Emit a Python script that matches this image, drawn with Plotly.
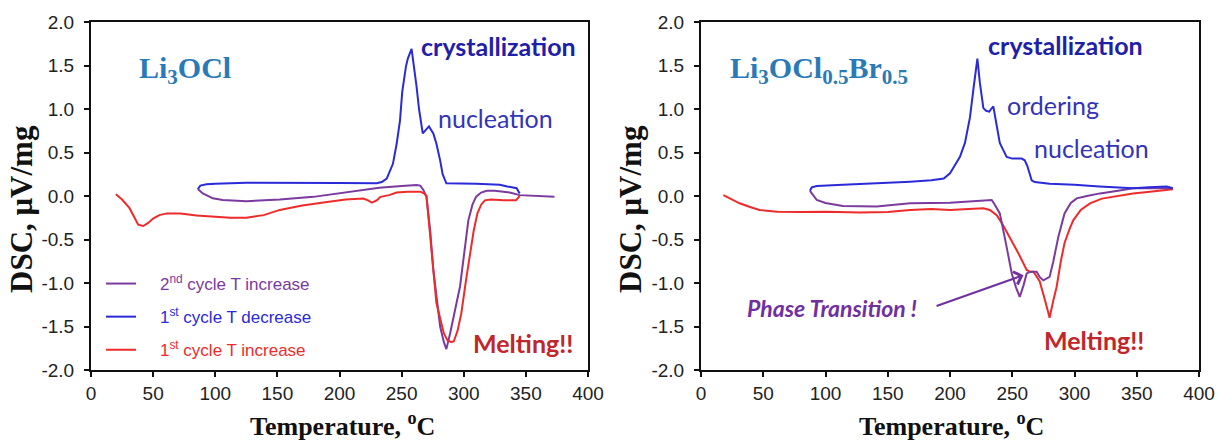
import plotly.graph_objects as go

# ---------------- data: Li3OCl (left panel) ----------------
L_red_x = [20, 25, 31, 35, 38, 42, 46, 50, 55, 61, 72, 85, 100, 112, 125, 139, 152, 170, 190, 205, 219, 223, 226, 230,
           233, 240, 246, 255, 265, 268, 270, 273, 278, 284, 287, 290, 292, 295, 298, 302, 305, 308, 311, 314, 317,
           322, 332, 342, 345]
L_red_y = [0.02, -0.04, -0.14, -0.24, -0.33, -0.345, -0.31, -0.26, -0.22, -0.20, -0.20, -0.225, -0.24, -0.25, -0.25,
           -0.22, -0.16, -0.11, -0.07, -0.04, -0.03, -0.05, -0.077, -0.05, -0.01, 0.01, 0.04, 0.05, 0.05, 0.03, 0.0,
           -0.47, -1.23, -1.58, -1.66, -1.68, -1.67, -1.55, -1.35, -0.95, -0.66, -0.40, -0.2, -0.1, -0.05, -0.04,
           -0.05, -0.05, 0.0]

L_blue_x = [345, 342.6, 335, 329, 310, 295, 286, 283, 281, 278, 275.5, 272, 269.6, 267, 264, 262, 258, 255, 253.5,
            250.5, 248.7, 246, 243, 240, 238, 234, 230, 200, 179, 150, 125, 100, 93, 88, 86]
L_blue_y = [0.03, 0.09, 0.11, 0.13, 0.14, 0.145, 0.146, 0.25, 0.41, 0.6, 0.72, 0.80, 0.76, 0.72, 1.0, 1.26, 1.69,
            1.58, 1.49, 1.2, 0.87, 0.6, 0.37, 0.26, 0.2, 0.16, 0.146, 0.15, 0.153, 0.155, 0.153, 0.14, 0.135, 0.12,
            0.08]

L_purple_x = [86, 90, 98, 106, 125, 152, 179, 205, 232, 250, 262, 265, 267.5, 270, 273, 275.5, 281, 284, 286, 289,
              293, 297, 300, 303.7, 307, 310, 314, 318.5, 325, 337, 345, 360, 373]
L_purple_y = [0.08, 0.03, -0.027, -0.046, -0.06, -0.04, -0.01, 0.04, 0.095, 0.115, 0.126, 0.12, 0.07, -0.01, -0.4,
              -0.85, -1.50, -1.68, -1.76, -1.58, -1.3, -1.04, -0.7, -0.28, -0.1, -0.008, 0.04, 0.06, 0.06, 0.04,
              0.01, -0.005, -0.01]

# ---------------- data: Li3OCl0.5Br0.5 (right panel) ----------------
R_red_x = [18, 25, 31, 40, 47, 61, 80, 101, 128, 150, 168, 185, 200, 215, 226.8, 232, 237.5, 242, 248, 255, 261.6,
           264, 267, 272, 276, 280, 283, 285.7, 289, 292, 296, 299, 305, 312.5, 322, 334, 347, 360.6, 370, 379]
R_red_y = [0.01, -0.04, -0.084, -0.13, -0.16, -0.18, -0.185, -0.18, -0.19, -0.185, -0.16, -0.15, -0.16, -0.15,
           -0.14, -0.16, -0.22, -0.32, -0.47, -0.66, -0.85, -0.87, -0.87, -0.98, -1.18, -1.40, -1.2, -1.04, -0.75,
           -0.54, -0.38, -0.28, -0.16, -0.084, -0.03, 0.0, 0.03, 0.05, 0.06, 0.077]

R_blue_x = [379, 374, 360, 347, 320, 300, 280, 268, 265.6, 262, 260, 257.6, 250, 245.5, 242, 240, 237, 234.8, 233,
            231.6, 229, 226.8, 224, 222, 219, 216, 212, 208, 205, 200, 195, 185, 168, 140, 114, 93, 89, 87.5]
R_blue_y = [0.09, 0.11, 0.10, 0.09, 0.11, 0.13, 0.14, 0.16, 0.18, 0.35, 0.41, 0.43, 0.43, 0.45, 0.55, 0.61, 0.85,
            1.03, 1.0, 0.97, 0.98, 1.01, 1.3, 1.58, 1.25, 0.9, 0.61, 0.45, 0.38, 0.26, 0.2, 0.18, 0.165, 0.15, 0.13,
            0.115, 0.1, 0.06]

R_purple_x = [87.5, 93, 100, 114, 141, 168, 200, 220, 233.5, 236, 240, 245, 249.6, 253, 256, 259, 261.6, 265,
              269.6, 272, 275, 280, 283, 287, 292, 297, 301.8, 310, 320.5, 335, 347, 365, 379]
R_purple_y = [0.06, -0.046, -0.08, -0.115, -0.12, -0.084, -0.077, -0.06, -0.046, -0.1, -0.2, -0.55, -0.89, -1.05,
              -1.16, -1.03, -0.89, -0.87, -0.87, -0.93, -0.97, -0.93, -0.75, -0.47, -0.2, -0.08, -0.027, 0.0, 0.03,
              0.06, 0.088, 0.09, 0.088]

legend_names = ["2<sup>nd</sup> cycle T increase", "1<sup>st</sup> cycle T decrease", "1<sup>st</sup> cycle T increase"]
x_ticks = [0, 50, 100, 150, 200, 250, 300, 350, 400]
y_ticks = [-2.0, -1.5, -1.0, -0.5, 0.0, 0.5, 1.0, 1.5, 2.0]
y_tick_labels = ["-2.0", "-1.5", "-1.0", "-0.5", "0.0", "0.5", "1.0", "1.5", "2.0"]

# ---------------- styles ----------------
C_PURPLE = "#7b3a9e"
C_BLUE = "#2a2ad8"
C_RED = "#ee2b2b"
C_TITLE = "#2a7ab8"
C_CRYST = "#1f20a8"
C_NUC = "#3434b8"
C_MELT = "#c0262b"
C_PHASE = "#7030a0"
SANS = "Liberation Sans, Arial, sans-serif"
SERIF = "Liberation Serif, Times New Roman, serif"
CAL = "Lato, Open Sans, sans-serif"
NB = "\u00a0" * 4

fig = go.Figure()

def add(x, y, color, xa, ya, name, show, rank):
    fig.add_trace(go.Scatter(
        x=x, y=y, mode="lines", line=dict(color=color, width=2),
        xaxis=xa, yaxis=ya, showlegend=show, legendgroup=name if show else None,
        legendrank=rank,
        name=NB + f'<span style="color:{color}">{legend_names[rank - 1]}</span>'))

add(L_purple_x, L_purple_y, C_PURPLE, "x", "y", "g1", True, 1)
add(L_blue_x, L_blue_y, C_BLUE, "x", "y", "g2", True, 2)
add(L_red_x, L_red_y, C_RED, "x", "y", "g3", True, 3)
add(R_red_x, R_red_y, C_RED, "x2", "y2", "r3", False, 3)
add(R_purple_x, R_purple_y, C_PURPLE, "x2", "y2", "r1", False, 1)
add(R_blue_x, R_blue_y, C_BLUE, "x2", "y2", "r2", False, 2)

ax_common = dict(range=[0, 400], tickvals=x_ticks, ticks="outside", ticklen=5, tickwidth=1.5,
                 tickcolor="#111", showline=True, linecolor="#111", linewidth=2, mirror=True,
                 showgrid=False, zeroline=False, automargin=False,
                 tickfont=dict(family=SANS, size=19, color="#222"))
ay_common = dict(range=[-2, 2], tickvals=y_ticks, ticktext=y_tick_labels, ticks="outside", ticklen=5,
                 tickwidth=1.5, tickcolor="#111", showline=True, linecolor="#111", linewidth=2, mirror=True,
                 showgrid=False, zeroline=False, automargin=False, ticklabelstandoff=6,
                 tickfont=dict(family=SANS, size=19, color="#222"))

Y0, Y1 = 1 - 370 / 440, 1 - 22 / 440
fig.update_layout(
    width=1217, height=440, margin=dict(l=0, r=0, t=0, b=0),
    paper_bgcolor="white", plot_bgcolor="white",
    xaxis=dict(domain=[91 / 1217, 588 / 1217], anchor="y", **ax_common),
    yaxis=dict(domain=[Y0, Y1], anchor="x", **ay_common),
    xaxis2=dict(domain=[701 / 1217, 1199 / 1217], anchor="y2", **ax_common),
    yaxis2=dict(domain=[Y0, Y1], anchor="x2", **ay_common),
    legend=dict(x=101 / 1217, y=1 - 266 / 440, xanchor="left", yanchor="top",
                bgcolor="rgba(0,0,0,0)", font=dict(family=SANS, size=17),
                tracegroupgap=8, traceorder="grouped"),
    showlegend=True,
)

ann = []
def t(text, x, y, xref, yref, font, xanchor="left", **kw):
    ann.append(dict(text=text, x=x, y=y, xref=xref, yref=yref, showarrow=False,
                    xanchor=xanchor, yanchor="middle", font=font, **kw))

# left panel texts
t("Li<sub>3</sub>OCl", 37, 1.45, "x", "y", dict(family=SERIF, size=30, color=C_TITLE, weight="bold"))
t("crystallization", 264, 1.72, "x", "y", dict(family=CAL, size=25, color=C_CRYST, weight="bold"))
t("nucleation", 277.5, 0.90, "x", "y", dict(family=CAL, size=25, color=C_NUC))
t("Melting!!", 305.5, -1.69, "x", "y", dict(family=CAL, size=25, color=C_MELT, weight="bold"))
# right panel texts
t("Li<sub>3</sub>OCl<sub>0.5</sub>Br<sub>0.5</sub>", 22, 1.45, "x2", "y2",
  dict(family=SERIF, size=30, color=C_TITLE, weight="bold"))
t("crystallization", 229, 1.74, "x2", "y2", dict(family=CAL, size=25, color=C_CRYST, weight="bold"))
t("ordering", 244, 1.05, "x2", "y2", dict(family=CAL, size=25, color=C_NUC))
t("nucleation", 265.5, 0.55, "x2", "y2", dict(family=CAL, size=25, color=C_NUC))
t("Melting!!", 273.5, -1.655, "x2", "y2", dict(family=CAL, size=25, color=C_MELT, weight="bold"))
t("Phase Transition !", 35, -1.29, "x2", "y2", dict(family=CAL, size=23, color=C_PHASE, weight="bold", style="italic"))
ann.append(dict(x=259, y=-0.91, xref="x2", yref="y2", ax=188, ay=-1.27, axref="x2", ayref="y2",
                text="", showarrow=True, arrowhead=4, arrowsize=1.3, arrowwidth=2, arrowcolor=C_PHASE))

# axis titles
for xc in [342, 951]:
    ann.append(dict(text="Temperature, <sup>o</sup>C", x=xc / 1217, y=1 - 424 / 440, xref="paper",
                    yref="paper", showarrow=False, xanchor="center", yanchor="middle",
                    font=dict(family=SERIF, size=26, color="#111", weight="bold")))
for xc in [21, 630]:
    ann.append(dict(text="DSC, \u03bcV/mg", x=xc / 1217, y=1 - 209 / 440, xref="paper", yref="paper",
                    showarrow=False, xanchor="center", yanchor="middle", textangle=-90,
                    font=dict(family=SERIF, size=31, color="#111", weight="bold")))

fig.update_layout(annotations=ann)
fig.write_html("out.html")
